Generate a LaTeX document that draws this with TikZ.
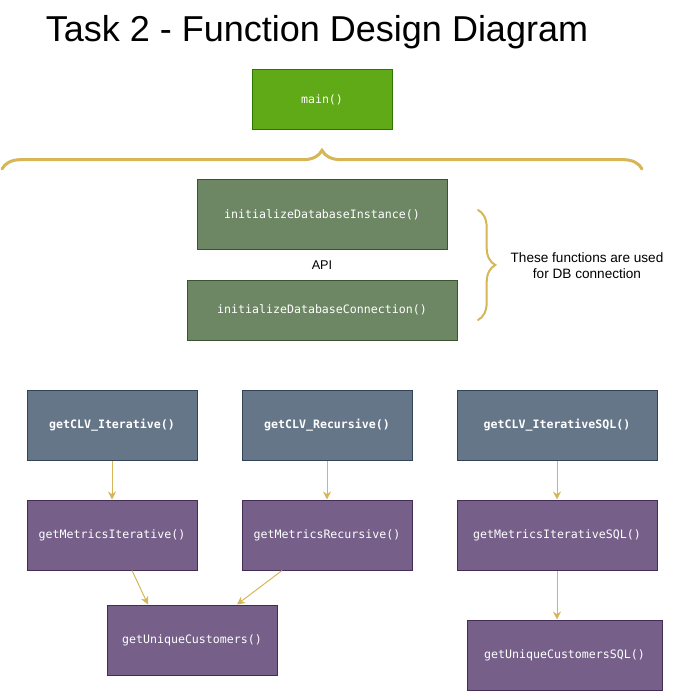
\documentclass[tikz,border=0pt]{standalone}
\usepackage{fontspec}
\setmainfont{Liberation Sans}
\setmonofont{DejaVu Sans Mono}
\usetikzlibrary{arrows.meta,decorations.pathreplacing}

\definecolor{mainfill}{HTML}{60A917}
\definecolor{mainline}{HTML}{2D7600}
\definecolor{dbfill}{HTML}{6D8764}
\definecolor{dbline}{HTML}{3A5431}
\definecolor{clvfill}{HTML}{647687}
\definecolor{clvline}{HTML}{314354}
\definecolor{metfill}{HTML}{76608A}
\definecolor{metline}{HTML}{432D57}
\definecolor{gold}{HTML}{D6B656}

\begin{document}
\begin{tikzpicture}[x=0.75pt, y=-0.75pt, node distance=82.5pt,
  fn/.style={rectangle, draw, line width=0.75pt, inner sep=0pt, text=white,
    font=\ttfamily\fontsize{8.7}{10}\selectfont, minimum height=52.5pt},
  mainbox/.style={fn, fill=mainfill, draw=mainline, minimum height=45pt},
  dbbox/.style={fn, fill=dbfill, draw=dbline},
  clvbox/.style={fn, fill=clvfill, draw=clvline, font=\ttfamily\bfseries\fontsize{8.7}{10}\selectfont},
  metbox/.style={fn, fill=metfill, draw=metline},
  flow/.style={draw=gold, line width=0.75pt, -{Stealth[length=6pt,width=6pt]}},
  curly/.style={draw=gold, decorate, line cap=round}]
  \useasboundingbox (0,0) rectangle (678,691);

  % Title
  \node[font=\fontsize{27}{32}\selectfont] (title) at (317,32) {Task 2 - Function Design Diagram};

  % Nodes
  \node[mainbox, minimum width=105pt] (main) at (322,100) {main()};

  % DB connection nodes
  \node[dbbox, minimum width=187.5pt] (inst) at (322,215) {initializeDatabaseInstance()};
  \node[dbbox, below of=inst, yshift=11.25pt, minimum width=202.5pt, minimum height=45pt] (conn) {initializeDatabaseConnection()};
  \node[fill=white, fill opacity=0.7, text opacity=1, inner sep=0pt, minimum width=30pt, minimum height=22.5pt,
    font=\fontsize{9.5}{11}\selectfont] (api) at (322,265) {API};
  \node[align=center, font=\fontsize{10.2}{12}\selectfont] (note) at (587,266) {These functions are used\\for DB connection};

  % CLV nodes
  \node[clvbox, minimum width=127.5pt] (clvI) at (112,425) {getCLV\_Iterative()};
  \node[clvbox, right of=clvI, xshift=78.75pt, minimum width=127.5pt] (clvR) {getCLV\_Recursive()};
  \node[clvbox, right of=clvR, xshift=90pt, minimum width=150pt] (clvS) {getCLV\_IterativeSQL()};

  % Metrics nodes
  \node[metbox, below of=clvI, minimum width=127.5pt] (metI) {getMetricsIterative()};
  \node[metbox, below of=clvR, minimum width=127.5pt] (metR) {getMetricsRecursive()};
  \node[metbox, below of=clvS, minimum width=150pt] (metS) {getMetricsIterativeSQL()};

  % Customer nodes
  \node[metbox, below of=metI, xshift=60pt, yshift=3.75pt, minimum width=127.5pt] (uniq) {getUniqueCustomers()};
  \node[metbox, below of=metS, xshift=5.625pt, yshift=-7.5pt, minimum width=146.25pt] (uniqS) {getUniqueCustomersSQL()};

  % Braces
  \coordinate (bl) at (2,169);
  \coordinate (br) at (642,169);
  \draw[curly, line width=2.25pt, decoration={brace, amplitude=14pt}] (bl) -- (br);
  \coordinate (rt) at (478,210);
  \coordinate (rb) at (478,320);
  \draw[curly, line width=1.5pt, decoration={brace, amplitude=13pt}] (rt) -- (rb);

  % Arrows
  \draw[flow] (clvI) -- (metI);
  \draw[flow] (clvR) -- (metR);
  \draw[flow] (clvS) -- (metS);
  \draw[flow] ([xshift=15pt]metI.south) -- ([xshift=-33pt]uniq.north);
  \draw[flow] ([xshift=-33.75pt]metR.south) -- ([xshift=33.75pt]uniq.north);
  \draw[flow] (metS.south) -- (metS.south |- uniqS.north);
\end{tikzpicture}
\end{document}
